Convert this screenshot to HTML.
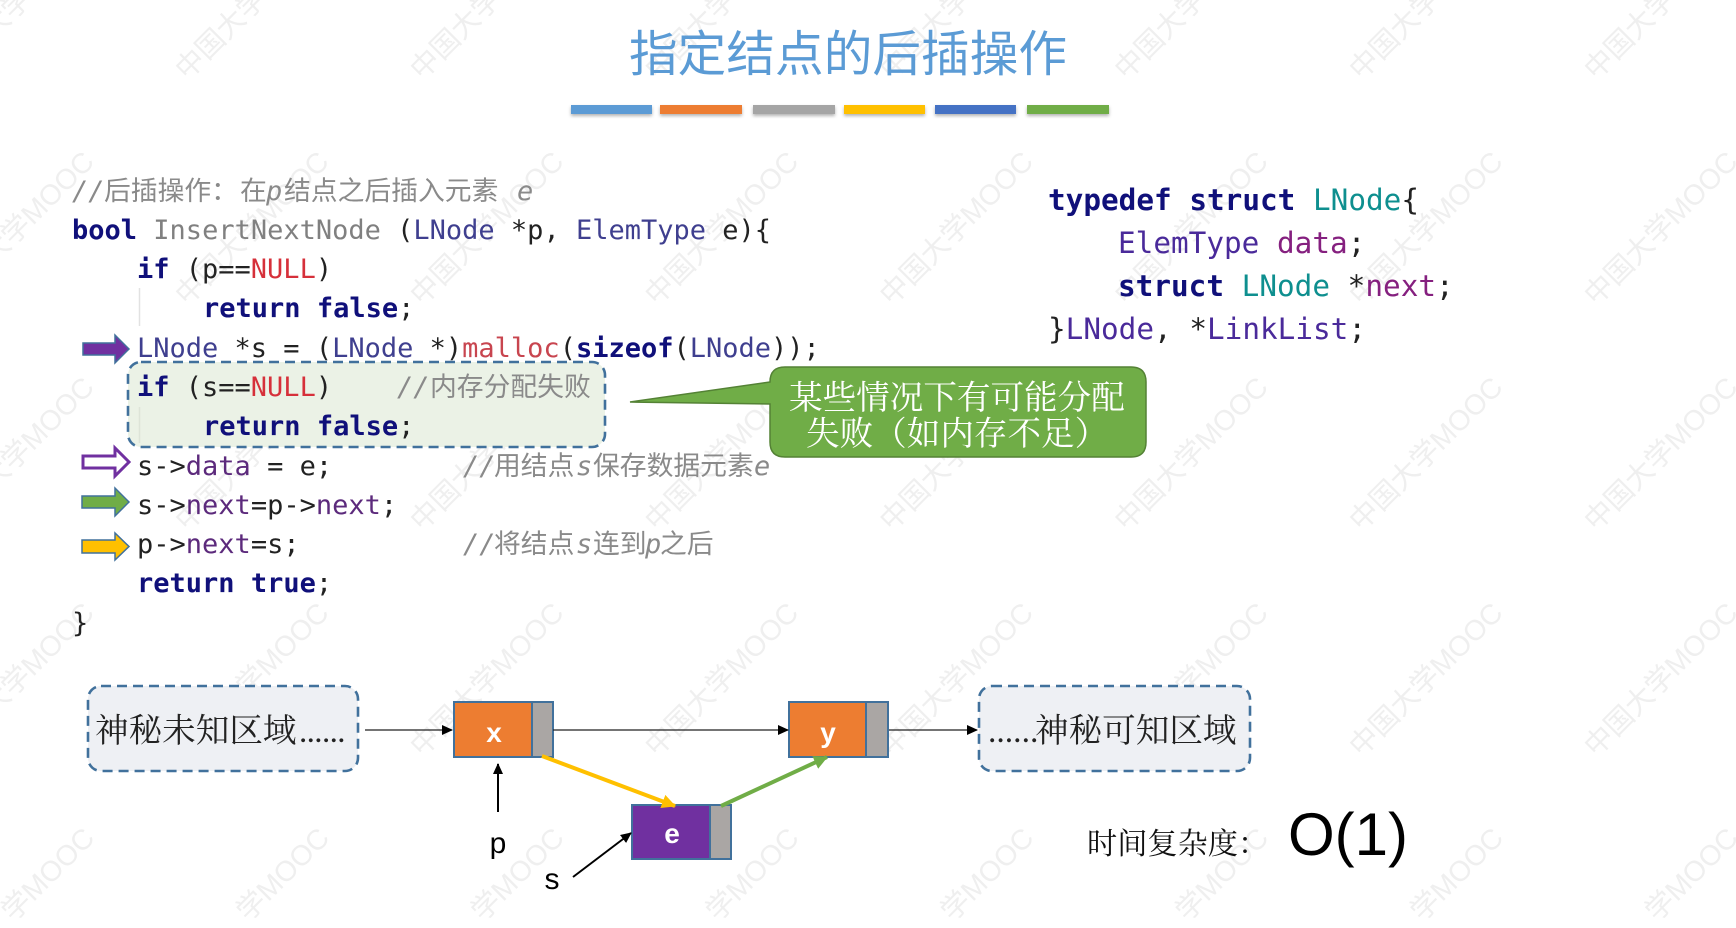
<!DOCTYPE html>
<html lang="zh">
<head>
<meta charset="utf-8">
<style>
html,body{margin:0;padding:0;background:#fff;width:1736px;height:928px;overflow:hidden}
svg{display:block}
text{white-space:pre}
.m{font-family:"DejaVu Sans Mono","Liberation Mono",monospace;font-size:27px;fill:#222}
.r{font-family:"DejaVu Sans Mono","Liberation Mono",monospace;font-size:29.35px;fill:#222}
.k{font-weight:bold;fill:#10107a}
.t{fill:#3f3f8f}
.g{fill:#808080}
.n{fill:#d6303a}
.f{fill:#c8454f}
.v{fill:#5c2a7c}
.c{font-family:"Liberation Sans","Noto Sans CJK SC",sans-serif;font-size:26.8px;fill:#8a8a8a}
.i{font-family:"DejaVu Sans Mono","Liberation Mono",monospace;font-style:italic;font-size:27px}
.wm{font-family:"Liberation Sans","Noto Sans CJK SC",sans-serif;font-size:28.5px;fill:#efefef}
.s{font-family:"Liberation Serif","Noto Serif CJK SC",serif}
.a{font-family:"Liberation Sans","Noto Sans CJK SC",sans-serif}
</style>
</head>
<body>
<svg width="1736" height="928" viewBox="0 0 1736 928" xmlns="http://www.w3.org/2000/svg">
<defs>
<g id="w"><text class="wm" text-anchor="middle" transform="rotate(-45)">中国大学MOOC</text></g>
<g id="wb"><text class="wm" text-anchor="end" x="102" transform="rotate(-45)">学MOOC</text></g>
<filter id="sh" x="-5%" y="-30%" width="110%" height="180%"><feDropShadow dx="0" dy="2" stdDeviation="1.5" flood-color="#000" flood-opacity=".3"/></filter>
<marker id="ah" markerWidth="12" markerHeight="12" refX="10" refY="5" orient="auto" markerUnits="userSpaceOnUse"><path d="M0 0L11 5L0 10z" fill="#000"/></marker>
<marker id="ay" markerWidth="16" markerHeight="16" refX="13" refY="7" orient="auto" markerUnits="userSpaceOnUse"><path d="M0 0L14 7L0 14z" fill="#ffc000"/></marker>
<marker id="ag" markerWidth="16" markerHeight="16" refX="13" refY="7" orient="auto" markerUnits="userSpaceOnUse"><path d="M0 0L14 7L0 14z" fill="#70ad47"/></marker>
</defs>

<!-- watermark -->
<g>
<use href="#w" x="24" y="9.4"/><use href="#w" x="258.8" y="9.4"/><use href="#w" x="493.6" y="9.4"/><use href="#w" x="728.4" y="9.4"/><use href="#w" x="963.2" y="9.4"/><use href="#w" x="1198" y="9.4"/><use href="#w" x="1432.8" y="9.4"/><use href="#w" x="1667.6" y="9.4"/>
<use href="#w" x="24" y="235"/><use href="#w" x="258.8" y="235"/><use href="#w" x="493.6" y="235"/><use href="#w" x="728.4" y="235"/><use href="#w" x="963.2" y="235"/><use href="#w" x="1198" y="235"/><use href="#w" x="1432.8" y="235"/><use href="#w" x="1667.6" y="235"/>
<use href="#w" x="24" y="460.6"/><use href="#w" x="258.8" y="460.6"/><use href="#w" x="493.6" y="460.6"/><use href="#w" x="728.4" y="460.6"/><use href="#w" x="963.2" y="460.6"/><use href="#w" x="1198" y="460.6"/><use href="#w" x="1432.8" y="460.6"/><use href="#w" x="1667.6" y="460.6"/>
<use href="#w" x="24" y="686.2"/><use href="#w" x="258.8" y="686.2"/><use href="#w" x="493.6" y="686.2"/><use href="#w" x="728.4" y="686.2"/><use href="#w" x="963.2" y="686.2"/><use href="#w" x="1198" y="686.2"/><use href="#w" x="1432.8" y="686.2"/><use href="#w" x="1667.6" y="686.2"/>
<use href="#wb" x="24" y="911.8"/><use href="#wb" x="258.8" y="911.8"/><use href="#wb" x="493.6" y="911.8"/><use href="#wb" x="728.4" y="911.8"/><use href="#wb" x="963.2" y="911.8"/><use href="#wb" x="1198" y="911.8"/><use href="#wb" x="1432.8" y="911.8"/><use href="#wb" x="1667.6" y="911.8"/>
</g>

<!-- title -->
<text x="848" y="71" text-anchor="middle" class="a" font-size="48.6" fill="#5b9bd5" textLength="438" lengthAdjust="spacing">指定结点的后插操作</text>

<!-- bars -->
<g filter="url(#sh)">
<rect x="571" y="105" width="81" height="9" fill="#5b9bd5"/>
<rect x="660" y="105" width="82" height="9" fill="#ed7d31"/>
<rect x="753" y="105" width="82" height="9" fill="#a5a5a5"/>
<rect x="844" y="105" width="81" height="9" fill="#ffc000"/>
<rect x="935" y="105" width="81" height="9" fill="#4472c4"/>
<rect x="1027" y="105" width="82" height="9" fill="#70ad47"/>
</g>

<!-- highlight -->
<rect x="128" y="362" width="477" height="85" rx="13" fill="#ebf2e6" stroke="#41719c" stroke-width="2.6" stroke-dasharray="10 6"/>
<line x1="139.5" y1="288" x2="139.5" y2="326" stroke="#e2e2e2" stroke-width="1.5"/>
<line x1="139.5" y1="407" x2="139.5" y2="443" stroke="#dde4d8" stroke-width="1.5"/>

<!-- left code -->
<text class="c" y="200"><tspan x="72" class="i">//</tspan><tspan x="104">后插操作&#xFF1A;</tspan><tspan x="240">在</tspan><tspan x="266" class="i">p</tspan><tspan x="284">结点之后插入元素</tspan><tspan x="517" class="i">e</tspan></text>
<text class="m" x="72" y="239"><tspan class="k">bool</tspan> <tspan class="g">InsertNextNode</tspan> (<tspan class="t">LNode</tspan> *p, <tspan class="t">ElemType</tspan> e){</text>
<text class="m" x="137" y="278"><tspan class="k">if</tspan> (p==<tspan class="n">NULL</tspan>)</text>
<text class="m" x="203" y="317"><tspan class="k">return</tspan> <tspan class="k">false</tspan>;</text>
<text class="m" x="137" y="357"><tspan class="t">LNode</tspan> *s = (<tspan class="t">LNode</tspan> *)<tspan class="f">malloc</tspan>(<tspan class="k">sizeof</tspan>(<tspan class="t">LNode</tspan>));</text>
<text class="m" x="137" y="396"><tspan class="k">if</tspan> (s==<tspan class="n">NULL</tspan>)</text>
<text class="c" y="396"><tspan x="397" class="i">//</tspan><tspan x="430">内存分配失败</tspan></text>
<text class="m" x="203" y="435"><tspan class="k">return</tspan> <tspan class="k">false</tspan>;</text>
<text class="m" x="137" y="475">s-&gt;<tspan class="v">data</tspan> = e;</text>
<text class="c" y="475"><tspan x="463" class="i">//</tspan><tspan x="494">用结点</tspan><tspan x="576" class="i">s</tspan><tspan x="593">保存数据元素</tspan><tspan x="754" class="i">e</tspan></text>
<text class="m" x="137" y="514">s-&gt;<tspan class="v">next</tspan>=p-&gt;<tspan class="v">next</tspan>;</text>
<text class="m" x="137" y="553">p-&gt;<tspan class="v">next</tspan>=s;</text>
<text class="c" y="553"><tspan x="463" class="i">//</tspan><tspan x="494">将结点</tspan><tspan x="576" class="i">s</tspan><tspan x="593">连到</tspan><tspan x="645" class="i">p</tspan><tspan x="660">之后</tspan></text>
<text class="m" x="137" y="592"><tspan class="k">return</tspan> <tspan class="k">true</tspan>;</text>
<text class="m" x="72" y="632">}</text>

<!-- right code -->
<text class="r" x="1048" y="210"><tspan class="k">typedef</tspan> <tspan class="k">struct</tspan> <tspan style="fill:#0e8f8f">LNode</tspan>{</text>
<text class="r" x="1118" y="253"><tspan style="fill:#4a2a9a">ElemType</tspan> <tspan style="fill:#85207f">data</tspan>;</text>
<text class="r" x="1118" y="296"><tspan class="k">struct</tspan> <tspan style="fill:#0e8f8f">LNode</tspan> *<tspan style="fill:#85207f">next</tspan>;</text>
<text class="r" x="1048" y="339">}<tspan style="fill:#4a2a9a">LNode</tspan>, *<tspan style="fill:#4a2a9a">LinkList</tspan>;</text>

<!-- block arrows -->
<path d="M83 343H115V335L129 349L115 363V355H83z" fill="#7030a0" stroke="#41719c" stroke-width="1.5"/>
<path d="M83 456H115V448L129 462L115 476V468H83z" fill="#fff" stroke="#7030a0" stroke-width="3"/>
<path d="M82 496H115V488L129 502L115 516V508H82z" fill="#70ad47" stroke="#41719c" stroke-width="1.5"/>
<path d="M82 540H115V533L129 546.5L115 560V553H82z" fill="#ffc000" stroke="#41719c" stroke-width="1.5"/>

<!-- callout -->
<path d="M785 367H1131Q1146 367 1146 382V442Q1146 457 1131 457H785Q770 457 770 442V404L630 402L770 382Q770 367 785 367z" fill="#70ad47" stroke="#548235" stroke-width="1.5"/>
<text x="789" y="409" class="s" font-size="33.6" fill="#fff">某些情况下有可能分配</text>
<text x="806" y="445" class="s" font-size="33.6" fill="#fff">失败&#xFF08;如内存不足&#xFF09;</text>

<!-- dashed boxes -->
<rect x="88" y="686" width="270" height="85" rx="13" fill="#eef0f4" stroke="#41719c" stroke-width="2.6" stroke-dasharray="10 6"/>
<rect x="979" y="686" width="271" height="85" rx="13" fill="#eef0f4" stroke="#41719c" stroke-width="2.6" stroke-dasharray="10 6"/>
<text x="95" y="742" class="s" font-size="33.6" fill="#222">神秘未知区域<tspan x="299" font-size="33" letter-spacing="-0.6">......</tspan></text>
<text x="988" y="742" class="s" font-size="33.6" fill="#222">......<tspan x="1035">神秘可知区域</tspan></text>

<!-- nodes -->
<rect x="454" y="702" width="78" height="55" fill="#ed7d31" stroke="#41719c" stroke-width="2"/>
<rect x="532" y="702" width="21" height="55" fill="#aaa6a4" stroke="#41719c" stroke-width="2"/>
<rect x="789" y="702" width="77" height="55" fill="#ed7d31" stroke="#41719c" stroke-width="2"/>
<rect x="866" y="702" width="22" height="55" fill="#aaa6a4" stroke="#41719c" stroke-width="2"/>
<rect x="632" y="805" width="78" height="54" fill="#7030a0" stroke="#41719c" stroke-width="2"/>
<rect x="710" y="805" width="21" height="54" fill="#aaa6a4" stroke="#41719c" stroke-width="2"/>
<text x="494" y="742" text-anchor="middle" class="a" font-size="28" font-weight="bold" fill="#fff">x</text>
<text x="828" y="742" text-anchor="middle" class="a" font-size="28" font-weight="bold" fill="#fff">y</text>
<text x="672" y="843" text-anchor="middle" class="a" font-size="28" font-weight="bold" fill="#fff">e</text>
<text x="498" y="853" text-anchor="middle" class="a" font-size="30" fill="#000">p</text>
<text x="552" y="889" text-anchor="middle" class="a" font-size="30" fill="#000">s</text>

<!-- connectors -->
<line x1="365" y1="730" x2="452" y2="730" stroke="#222" stroke-width="1.3" marker-end="url(#ah)"/>
<line x1="553" y1="730" x2="788" y2="730" stroke="#222" stroke-width="1.3" marker-end="url(#ah)"/>
<line x1="889" y1="730" x2="977" y2="730" stroke="#222" stroke-width="1.3" marker-end="url(#ah)"/>
<line x1="498" y1="812" x2="498" y2="764" stroke="#000" stroke-width="2" marker-end="url(#ah)"/>
<line x1="573" y1="877" x2="631" y2="833" stroke="#000" stroke-width="2" marker-end="url(#ah)"/>
<line x1="542" y1="756" x2="675" y2="806" stroke="#ffc000" stroke-width="4" marker-end="url(#ay)"/>
<line x1="721" y1="806" x2="827" y2="757" stroke="#70ad47" stroke-width="4" marker-end="url(#ag)"/>

<!-- complexity -->
<text x="1087" y="854" class="s" font-size="30.2" fill="#111">时间复杂度&#xFF1A;</text>
<text x="1288" y="855" class="a" font-size="60" fill="#000">O(1)</text>
</svg>
</body>
</html>
